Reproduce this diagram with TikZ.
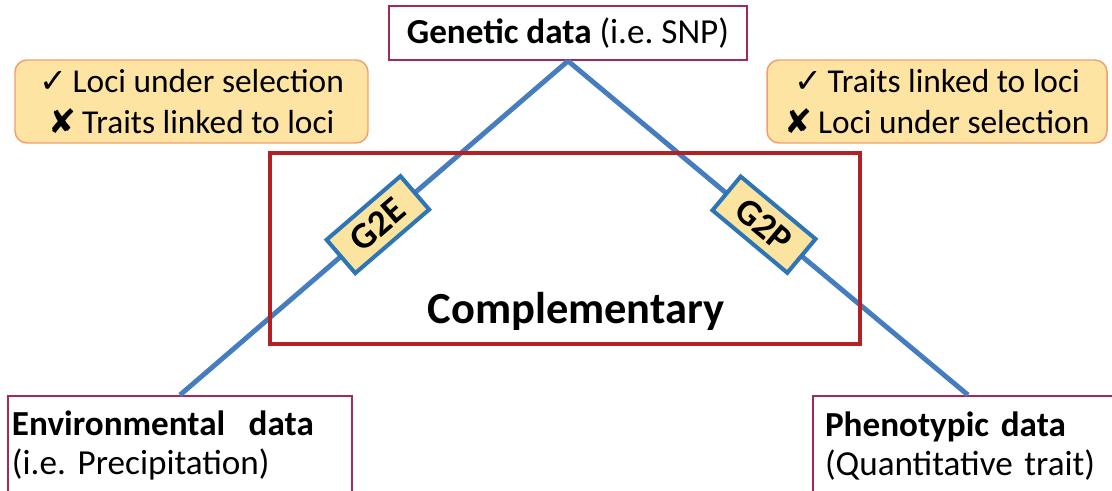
\documentclass[tikz,border=0pt]{standalone}
\usepackage{fontspec}
\setmainfont{Carlito}
\newfontfamily\tickfont{DejaVu Sans}
\usetikzlibrary{positioning}
\frenchspacing

\definecolor{linkblue}{RGB}{70,125,190}
\definecolor{boxmagenta}{RGB}{165,40,90}
\definecolor{notefill}{RGB}{253,228,163}
\definecolor{noteborder}{RGB}{240,160,110}
\definecolor{framered}{RGB}{178,34,34}
\definecolor{tagfill}{RGB}{251,228,160}
\definecolor{tagborder}{RGB}{46,117,182}

\tikzset{
  databox/.style={draw=boxmagenta, line width=1.1pt, font=\fontsize{20}{22.2}\selectfont},
  note/.style={draw=noteborder, fill=notefill, line width=0.85pt, rounded corners=0.24cm,
    align=center, minimum height=1.66cm, font=\fontsize{19}{22.8}\selectfont},
  link/.style={draw=linkblue, line width=2.8pt},
  tag/.style={draw=tagborder, fill=tagfill, line width=2.3pt, minimum width=1.95cm,
    minimum height=0.88cm, inner sep=0pt, sloped, font=\bfseries\fontsize{21}{24}\selectfont},
  frame/.style={draw=framered, line width=2.8pt, minimum width=11.8cm, minimum height=3.82cm}
}

\begin{document}
\begin{tikzpicture}
    \useasboundingbox (0,0) rectangle (22.24,9.8);
    % data
    \node[databox, minimum width=7.16cm, minimum height=1.08cm] (genetic) at (11.36,9.14)
      {\textbf{Genetic data} (i.e. SNP)};
    \node[databox, anchor=north, minimum height=2cm, text width=6.72cm, inner xsep=0.08cm,
      align=left] (env) at (3.6,1.9) {\textbf{Environmental\ \ data}\\(i.e. Precipitation)};
    \node[databox, anchor=north, minimum height=2cm, text width=5.72cm, inner xsep=0.24cm,
      align=left] (pheno) at (19.36,1.9) {\textbf{Phenotypic data}\\(Quantitative trait)};
    % links
    \draw[link] (genetic.south) -- node[tag, pos=.49] (g2e) {G2E} (env.north);
    \draw[link] (genetic.south) -- node[tag, pos=.49] (g2p) {G2P} (pheno.north);
    % notes
    \node[note, minimum width=7.06cm] (gea) at (3.83,7.77)
      {{\tickfont ✓}\,Loci under selection\\{\tickfont ✘}\,Traits linked to loci};
    \node[note, minimum width=6.8cm] (gwas) at (18.74,7.77)
      {{\tickfont ✓}\,Traits linked to loci\\{\tickfont ✘}\,Loci under selection};
    % complementary
    \node[frame] (zone) at (11.3,4.83) {};
    \node[anchor=base, font=\bfseries\fontsize{25.3}{30}\selectfont] (compl) at (11.52,3.34)
      {Complementary};
\end{tikzpicture}
\end{document}
